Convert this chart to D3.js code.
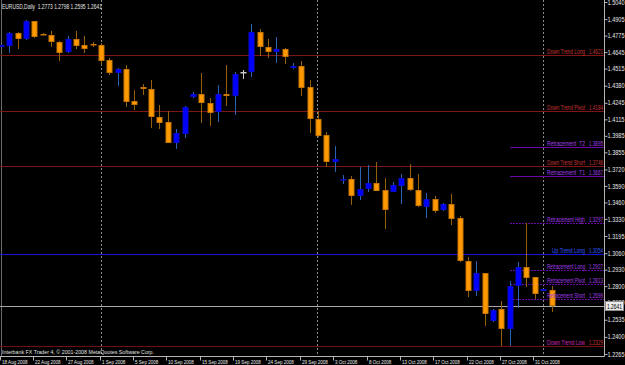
<!DOCTYPE html>
<html>
<head>
<meta charset="utf-8">
<script src="https://cdnjs.cloudflare.com/ajax/libs/d3/7.8.5/d3.min.js"></script>
<style>
  body { margin: 0; background: #000; }
  svg { display: block; }
  text { font-family: "Liberation Sans", Arial, sans-serif; }
</style>
</head>
<body>
<div id="chart"></div>
<script>
// EURUSD daily bars (MT4 style, sunday bars included)
const dates = ["18 Aug 2008","19 Aug 2008","20 Aug 2008","21 Aug 2008","22 Aug 2008","24 Aug 2008","25 Aug 2008","26 Aug 2008","27 Aug 2008","28 Aug 2008","29 Aug 2008","31 Aug 2008",
  "1 Sep 2008","2 Sep 2008","3 Sep 2008","4 Sep 2008","5 Sep 2008","7 Sep 2008","8 Sep 2008","9 Sep 2008","10 Sep 2008","11 Sep 2008","12 Sep 2008","14 Sep 2008","15 Sep 2008","16 Sep 2008","17 Sep 2008","18 Sep 2008","19 Sep 2008","21 Sep 2008","22 Sep 2008","23 Sep 2008","24 Sep 2008","25 Sep 2008","26 Sep 2008","28 Sep 2008","29 Sep 2008","30 Sep 2008",
  "1 Oct 2008","2 Oct 2008","3 Oct 2008","5 Oct 2008","6 Oct 2008","7 Oct 2008","8 Oct 2008","9 Oct 2008","10 Oct 2008","12 Oct 2008","13 Oct 2008","14 Oct 2008","15 Oct 2008","16 Oct 2008","17 Oct 2008","19 Oct 2008","20 Oct 2008","21 Oct 2008","22 Oct 2008","23 Oct 2008","24 Oct 2008","26 Oct 2008","27 Oct 2008","28 Oct 2008","29 Oct 2008","30 Oct 2008","31 Oct 2008",
  "2 Nov 2008","3 Nov 2008"];
const opens = [1.4689,1.4695,1.4793,1.4751,1.4888,1.4788,1.4780,1.4727,1.4646,1.4748,1.4701,1.4706,
  1.4701,1.4583,1.4483,1.4512,1.4262,1.4372,1.4354,1.4136,1.4094,1.3931,1.4003,1.4288,1.4315,1.4241,1.4170,1.4315,1.4301,1.4490,1.4490,1.4801,1.4683,1.4648,1.4667,1.4517,1.4538,1.4370,
  1.4117,1.3989,1.3781,1.3634,1.3644,1.3513,1.3565,1.3610,1.3557,1.3544,1.3591,1.3654,1.3557,1.3426,1.3487,1.3400,1.3447,1.3339,1.3000,1.2763,1.2901,1.2524,1.2617,1.2459,1.2800,1.2948,1.2869,
  1.2761,1.2773];
const highs = [1.4709,1.4806,1.4806,1.4902,1.4893,1.4796,1.4811,1.4735,1.4774,1.4811,1.4772,1.4727,
  1.4714,1.4596,1.4522,1.4543,1.4346,1.4391,1.4425,1.4228,1.4180,1.4039,1.4220,1.4333,1.4483,1.4281,1.4386,1.4543,1.4490,1.4504,1.4866,1.4825,1.4748,1.4766,1.4675,1.4561,1.4575,1.4425,
  1.4180,1.4013,1.3904,1.3676,1.3668,1.3741,1.3755,1.3781,1.3650,1.3618,1.3681,1.3762,1.3684,1.3536,1.3513,1.3453,1.3526,1.3352,1.3029,1.3000,1.2905,1.2619,1.2682,1.2842,1.2992,1.3295,1.2871,
  1.2776,1.2798];
const lows = [1.4685,1.4635,1.4673,1.4744,1.4758,1.4776,1.4689,1.4575,1.4640,1.4667,1.4640,1.4683,
  1.4543,1.4464,1.4380,1.4210,1.4188,1.4307,1.4049,1.4039,1.3926,1.3878,1.3968,1.4281,1.4083,1.4065,1.4096,1.4222,1.4149,1.4433,1.4451,1.4617,1.4601,1.4561,1.4551,1.4509,1.4299,1.4005,
  1.3978,1.3741,1.3697,1.3607,1.3439,1.3479,1.3539,1.3547,1.3252,1.3540,1.3447,1.3553,1.3421,1.3339,1.3379,1.3392,1.3281,1.2992,1.2716,1.2724,1.2485,1.2517,1.2327,1.2327,1.2625,1.2795,1.2695,
  1.2758,1.2595];
const closes = [1.4701,1.4798,1.4748,1.4888,1.4766,1.4780,1.4725,1.4640,1.4748,1.4695,1.4667,1.4703,
  1.4577,1.4483,1.4509,1.4254,1.4228,1.4356,1.4131,1.4088,1.3931,1.4005,1.4210,1.4315,1.4240,1.4167,1.4312,1.4299,1.4472,1.4490,1.4806,1.4683,1.4648,1.4667,1.4609,1.4535,1.4364,1.4115,
  1.3983,1.3781,1.3800,1.3642,1.3513,1.3565,1.3610,1.3552,1.3402,1.3597,1.3654,1.3557,1.3431,1.3487,1.3394,1.3445,1.3331,1.3000,1.2763,1.2901,1.2577,1.2611,1.2459,1.2803,1.2948,1.2866,1.2735,
  1.2774,1.2641];

// axis labels
const priceTicks = [1.5040,1.4905,1.4775,1.4645,1.4515,1.4380,1.4245,1.4115,1.3985,1.3855,1.3720,1.3590,
  1.3460,1.3330,1.3195,1.3060,1.2930,1.2800,1.2670,1.2535,1.2400,1.2265];
const dateTicks = ["18 Aug 2008","22 Aug 2008","27 Aug 2008","1 Sep 2008","5 Sep 2008","10 Sep 2008","15 Sep 2008","19 Sep 2008","24 Sep 2008",
  "29 Sep 2008","3 Oct 2008","8 Oct 2008","13 Oct 2008","17 Oct 2008","22 Oct 2008","27 Oct 2008","31 Oct 2008"];
const monthStarts = ["1 Sep 2008","1 Oct 2008","2 Nov 2008"];

// indicator levels
const levelNames = ["Down Trend Long","Down Trend Pivot","Retracement  T2","Down Trend Short","Retracement  T1","Retracement High",
  "Up Trend Long","Retracement Long","Retracement Pivot","Retracement Short","Down Trend Low"];
const levelValues = [1.4621,1.4184,1.3895,1.3746,1.3667,1.3297,1.3054,1.2927,1.2813,1.2699,1.2329];
const retraceStart = "28 Oct 2008";

const symbol = "EURUSD,Daily";
const copyright = "Interbank FX Trader 4, \u00a9 2001-2008 MetaQuotes Software Corp.";

// layout
const width = 625;
const height = 365;
const plotRight = 604.5;
const plotBottom = 356.5;

const x = d3.scalePoint().domain(dates).range([1.5, 552]);
const y = d3.scaleLinear().domain([1.2265, 1.5040]).range([354, 2]);
const fmt = d3.format(".4f");
const snap = v => Math.round(v) + 0.5;

const svg = d3.select("#chart").append("svg")
    .attr("width", width)
    .attr("height", height);

svg.append("rect")
    .attr("width", width)
    .attr("height", height)
    .attr("fill", "#000");

// left edge line
svg.append("line")
    .attr("x1", 1.5).attr("x2", 1.5)
    .attr("y1", 0).attr("y2", plotBottom)
    .attr("stroke", "#6a6a6a");

// month separators
svg.selectAll("line.sep")
    .data(monthStarts)
    .enter()
    .append("line")
    .attr("class", "sep")
    .attr("x1", d => Math.round(x(d)) - 0.5)
    .attr("x2", d => Math.round(x(d)) - 0.5)
    .attr("y1", 0)
    .attr("y2", plotBottom)
    .attr("stroke", "#8a8a8a")
    .attr("stroke-dasharray", "2,2");

function levelStyle(name) {
    if (name.startsWith("Retracement")) {
        return { line: "#6a0aa6", text: "#a23ee6", value: "#a23ee6", dash: /T\d/.test(name) ? null : "2,1", partial: true };
    }
    if (name.startsWith("Up")) {
        return { line: "#1414d8", text: "#3355ff", value: "#3355ff", dash: null, partial: false };
    }
    if (name == "Down Trend Low") {
        return { line: "#701010", text: "#cc26b0", value: "#d03030", dash: null, partial: false };
    }
    return { line: "#7e1616", text: "#c83434", value: "#c83434", dash: null, partial: false };
}

const levels = levelNames.map((name, i) => ({ name: name, value: levelValues[i], style: levelStyle(name) }));

// level lines
svg.selectAll("line.level")
    .data(levels)
    .enter()
    .append("line")
    .attr("class", "level")
    .attr("x1", d => d.style.partial ? Math.round(x(retraceStart)) : 0)
    .attr("x2", plotRight)
    .attr("y1", d => snap(y(d.value)))
    .attr("y2", d => snap(y(d.value)))
    .attr("stroke", d => d.style.line)
    .attr("stroke-dasharray", d => d.style.dash);

// current price line
const last = closes.length - 1;
svg.append("line")
    .attr("x1", 0).attr("x2", plotRight)
    .attr("y1", snap(y(closes[last])))
    .attr("y2", snap(y(closes[last])))
    .attr("stroke", "#a8a8a8");

// candles
const bars = dates.map((d, i) => ({ date: d, o: opens[i], h: highs[i], l: lows[i], c: closes[i] }));
function dir(d) { return d.c > d.o ? "up" : (d.c < d.o ? "down" : "flat"); }
const wickColor = { up: "#2a62b4", down: "#94600e", flat: "#c8c8c8" };
const bodyColor = { up: "#0000ff", down: "#ff9900", flat: "#c8c8c8" };
const edgeColor = { up: "#0a0ad0", down: "#c87400", flat: "#c8c8c8" };

const candle = svg.selectAll("g.bar")
    .data(bars)
    .enter()
    .append("g")
    .attr("class", "bar");

candle.append("line")
    .attr("x1", d => snap(x(d.date) - 0.5))
    .attr("x2", d => snap(x(d.date) - 0.5))
    .attr("y1", d => Math.round(y(d.h)))
    .attr("y2", d => Math.round(y(d.l)))
    .attr("stroke", d => wickColor[dir(d)]);

candle.append("rect")
    .attr("x", d => Math.round(x(d.date) - 0.5) - 2)
    .attr("y", d => Math.round(y(Math.max(d.o, d.c))) + 0.5)
    .attr("width", 5)
    .attr("height", d => Math.max(0.5, Math.round(y(Math.min(d.o, d.c))) - Math.round(y(Math.max(d.o, d.c))) - 1))
    .attr("fill", d => bodyColor[dir(d)])
    .attr("stroke", d => edgeColor[dir(d)]);

// level labels
svg.selectAll("text.lname")
    .data(levels)
    .enter()
    .append("text")
    .attr("class", "lname")
    .attr("x", d => d.name.startsWith("Up") ? 552 : 547)
    .attr("y", d => Math.round(y(d.value)) - 1)
    .attr("font-size", "6.5px")
    .attr("fill", d => d.style.text)
    .attr("textLength", d => d.name.startsWith("Up") ? 33 : 38)
    .attr("lengthAdjust", "spacingAndGlyphs")
    .attr("xml:space", "preserve")
    .text(d => d.name);

svg.selectAll("text.lval")
    .data(levels)
    .enter()
    .append("text")
    .attr("class", "lval")
    .attr("x", 589)
    .attr("y", d => Math.round(y(d.value)) - 1)
    .attr("font-size", "6.5px")
    .attr("fill", d => d.style.value)
    .attr("textLength", 14)
    .attr("lengthAdjust", "spacingAndGlyphs")
    .text(d => fmt(d.value));

// price axis
const yAxis = d3.axisRight(y)
    .tickValues(priceTicks)
    .tickSize(3)
    .tickSizeOuter(0)
    .tickFormat(fmt);

const gy = svg.append("g")
    .attr("transform", "translate(" + plotRight + ",0)")
    .call(yAxis);
gy.select(".domain").remove();
gy.selectAll(".tick line").attr("stroke", "#b4b4b4");
gy.selectAll(".tick text")
    .attr("x", 3)
    .attr("fill", "#e6e6e6")
    .attr("font-size", "6.5px")
    .attr("font-family", null)
    .attr("textLength", 17)
    .attr("lengthAdjust", "spacingAndGlyphs");

svg.append("line")
    .attr("x1", plotRight).attr("x2", plotRight)
    .attr("y1", 0).attr("y2", plotBottom)
    .attr("stroke", "#b4b4b4");

// last price box
const yc = y(closes[last]);
svg.append("rect")
    .attr("x", 605.5)
    .attr("y", Math.round(yc) - 4.5)
    .attr("width", 18)
    .attr("height", 9)
    .attr("fill", "#ececec")
    .attr("stroke", "#8c8c8c");
svg.append("text")
    .attr("x", 607)
    .attr("y", Math.round(yc) + 2.5)
    .attr("font-size", "6.5px")
    .attr("fill", "#000")
    .attr("textLength", 15)
    .attr("lengthAdjust", "spacingAndGlyphs")
    .text(fmt(closes[last]));

// time axis
svg.append("line")
    .attr("x1", 0).attr("x2", plotRight)
    .attr("y1", plotBottom).attr("y2", plotBottom)
    .attr("stroke", "#b4b4b4");

svg.selectAll("line.dtick")
    .data(dateTicks)
    .enter()
    .append("line")
    .attr("class", "dtick")
    .attr("x1", d => Math.round(x(d)) - 1.5)
    .attr("x2", d => Math.round(x(d)) - 1.5)
    .attr("y1", plotBottom)
    .attr("y2", plotBottom + 4)
    .attr("stroke", "#b4b4b4");

svg.selectAll("text.dlabel")
    .data(dateTicks)
    .enter()
    .append("text")
    .attr("class", "dlabel")
    .attr("x", d => Math.round(x(d)))
    .attr("y", 363.5)
    .attr("font-size", "6px")
    .attr("fill", "#e6e6e6")
    .text(d => d)
    .each(function() {
        const w = this.getComputedTextLength();
        d3.select(this).attr("textLength", w * 0.76).attr("lengthAdjust", "spacingAndGlyphs");
    });

// header and footer text
svg.append("text")
    .attr("x", 2)
    .attr("y", 8.5)
    .attr("font-size", "6.5px")
    .attr("fill", "#e6e6e6")
    .attr("textLength", 100)
    .attr("lengthAdjust", "spacingAndGlyphs")
    .attr("xml:space", "preserve")
    .text(symbol + "  " + [opens[last], highs[last], lows[last], closes[last]].map(fmt).join(" "));

svg.append("text")
    .attr("x", 2)
    .attr("y", 354)
    .attr("font-size", "6px")
    .attr("fill", "#e0e0e0")
    .attr("textLength", 152)
    .attr("lengthAdjust", "spacingAndGlyphs")
    .text(copyright);
</script>
</body>
</html>
